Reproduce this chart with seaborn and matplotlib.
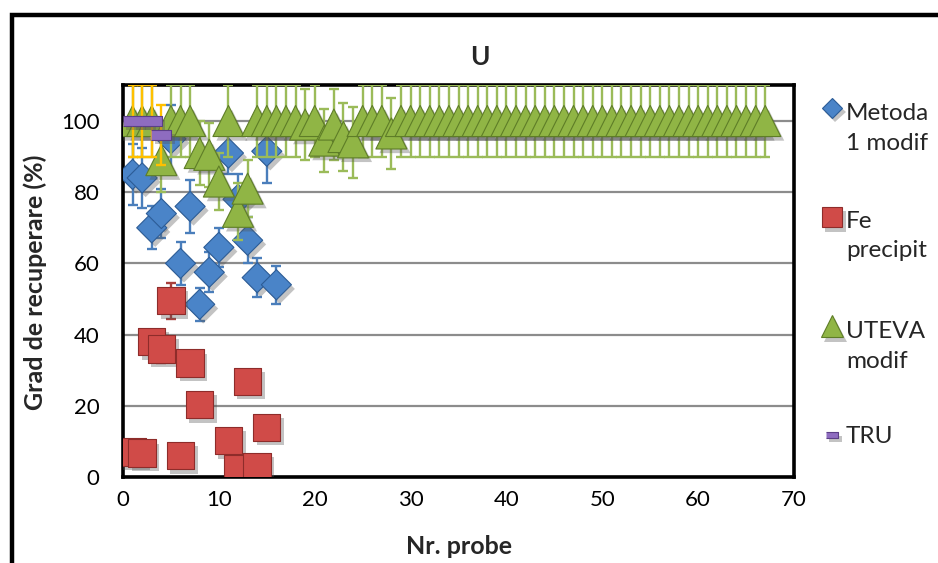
import matplotlib
matplotlib.use("Agg")
import matplotlib.pyplot as plt
import seaborn as sns
from matplotlib import patheffects as pe
from matplotlib.lines import Line2D
from matplotlib.patches import Rectangle

# ---------------- data ----------------
metoda_x = list(range(1, 17))
metoda_y = [85, 84, 70, 74, 95, 60, 76, 48.5, 57.5, 64.5, 91, 78, 66.5, 56, 91.5, 54]
metoda_err = [8.5, 8.5, 6, 7, 9.5, 6, 7.5, 4.7, 5.6, 5.5, 6, 7, 6.5, 5.5, 9, 5.3]

fe_x = [1, 2, 3, 4, 5, 6, 7, 8, 11, 12, 13, 14, 15]
fe_y = [7, 6.7, 38, 36, 49.5, 6, 32, 20.3, 10.2, 2.4, 26.8, 2.9, 13.9]
fe_err = [1.5, 1.5, 2, 4, 5, 1.5, 2, 2, 1.5, 1, 2, 1, 2]

uteva_x = list(range(1, 68))
uteva_y = [100, 100, 100, 89, 100, 100, 100, 91, 90.5, 83, 100, 74.5, 81,
           100, 100, 100, 100, 100, 99, 100, 94.5, 99, 95.5, 94, 100, 100, 100, 96.5] + [100] * 39
uteva_err = [10, 10, 10, 9, 10, 10, 10, 9, 9, 8, 10, 8, 8,
             10, 10, 10, 10, 10, 10, 10, 8.8, 10, 9.6, 10, 10, 10, 10, 10] + [10] * 39

tru_x = [1, 2, 3, 4]
tru_y = [100, 100, 100, 96]
tru_err = [10, 10, 10, 8.5]

labels = ["Metoda\n1 modif", "Fe\nprecipit", "UTEVA\nmodif", "TRU"]
x_ticks = [0, 10, 20, 30, 40, 50, 60, 70]
y_ticks = [0, 20, 40, 60, 80, 100]

# ---------------- style ----------------
sns.set_theme(style="white")
plt.rcParams["font.family"] = ["Lato", "DejaVu Sans"]

W, H = 938, 563
fig = plt.figure(figsize=(W / 100, H / 100), dpi=100)
ax = fig.add_axes([123 / W, (H - 477) / H, (794 - 123) / W, (477 - 85.4) / H])

dash = [(-1, -0.5), (1, -0.5), (1, 0.5), (-1, 0.5)]
shadow = [pe.SimplePatchShadow(offset=(2.5, -3), shadow_rgbFace="#555555", alpha=0.35), pe.Normal()]

series = [
    (metoda_x, metoda_y, metoda_err, "D", 235, "#4A84C8", "#2C5C96", "#4A7EBB"),
    (fe_x, fe_y, fe_err, "s", 390, "#D04B48", "#8E2C2A", "#A8403D"),
    (uteva_x, uteva_y, uteva_err, "^", 500, "#90B545", "#5E7D27", "#9BBB59"),
    (tru_x, tru_y, tru_err, dash, 210, "#8E6CC0", "#5B3F86", "#FFC000"),
]

for i, (x, y, e, m, s, fc, ec, erc) in enumerate(series):
    z = 3 + 2 * i
    ax.errorbar(x, y, yerr=e, fmt="none", ecolor=erc, elinewidth=1.7,
                capsize=3.8, capthick=1.7, zorder=z)
    sns.scatterplot(x=x, y=y, marker=m, s=s, color=fc, edgecolor=ec,
                    linewidth=0.8, ax=ax, zorder=z + 1, legend=False,
                    path_effects=shadow)

ax.set_xlim(0, 70)
ax.set_ylim(0, 110)
ax.set_xticks(x_ticks)
ax.set_yticks(y_ticks)
ax.tick_params(axis="both", labelsize=16, colors="#808080", labelcolor="black",
               width=1.5, length=5, direction="out")
ax.tick_params(axis="y", pad=12)
ax.tick_params(axis="x", pad=4)
ax.yaxis.grid(True, color="#8C8C8C", linewidth=1.6)
ax.set_axisbelow(True)
for sp in ax.spines.values():
    sp.set_color("black")
    sp.set_linewidth(2.6)
ax.set_xlabel("")
ax.set_ylabel("")

# titles / labels
fig.text(480 / W, 1 - 57 / H, "U", ha="center", va="center", fontsize=19, fontweight="bold")
fig.text(459 / W, 1 - 547 / H, "Nr. probe", ha="center", va="center", fontsize=18, fontweight="bold")
fig.text(35 / W, 1 - 282 / H, "Grad de recuperare (%)", ha="center", va="center",
         rotation=90, fontsize=18, fontweight="bold")

# legend (manual; y given as baseline of the last label line)
leg_items = [
    ("D", 10.5, "#4A84C8", "#2C5C96", 108, 150),
    ("s", 15, "#D04B48", "#8E2C2A", 217, 257),
    ("^", 16.5, "#90B545", "#5E7D27", 326, 368),
    (dash, 9, "#8E6CC0", "#5B3F86", 435, 443),
]
for (m, ms, fc, ec, yc, yb), lab in zip(leg_items, labels):
    fig.add_artist(Line2D([832 / W], [1 - yc / H], marker=m, markersize=ms,
                          markerfacecolor=fc, markeredgecolor=ec, markeredgewidth=0.8,
                          linestyle="none", transform=fig.transFigure,
                          path_effects=shadow))
    fig.text(846 / W, 1 - yb / H, lab, ha="left", va="baseline", fontsize=17.5,
             linespacing=1.5)

# outer chart border (top and left visible)
fig.add_artist(Rectangle((11.5 / W, -0.2), 1.2, 1 - 15 / H + 0.2, transform=fig.transFigure,
                         fill=False, edgecolor="black", linewidth=3.2))

fig.savefig("out.png", dpi=100)
